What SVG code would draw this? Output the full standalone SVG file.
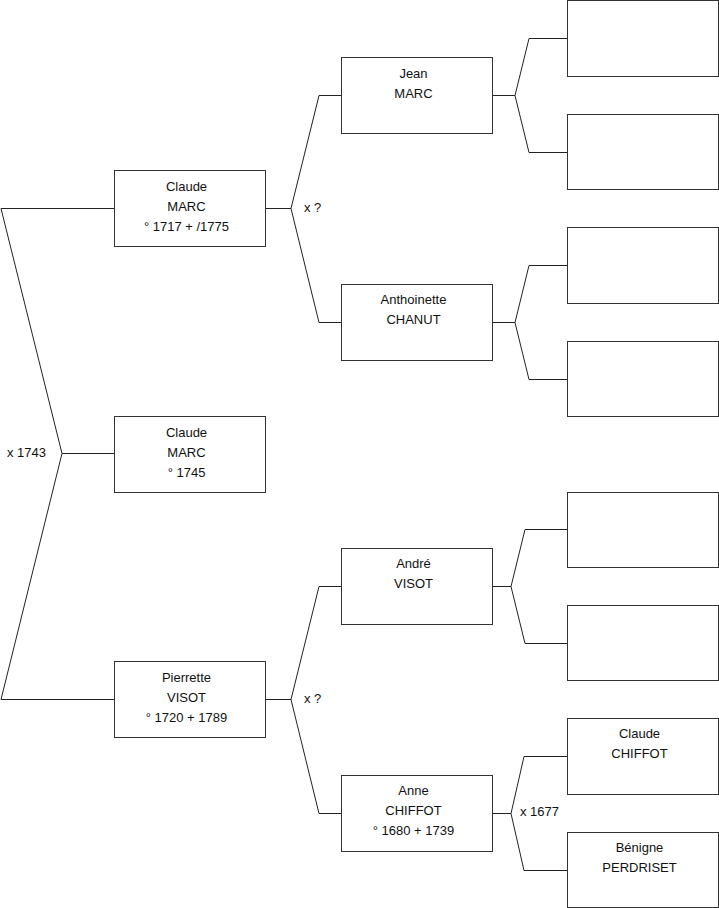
<svg xmlns="http://www.w3.org/2000/svg" width="719" height="908" viewBox="0 0 719 908">
<style>
rect.box{fill:#fff;stroke:#333;stroke-width:1}
.conn path{fill:none;stroke:#222;stroke-width:1}
text{font-family:"Liberation Sans",Arial,sans-serif;font-size:13px;fill:#111}
text.c{text-anchor:middle}
</style>
<rect width="719" height="908" fill="#fff"/>
<g class="conn" id="connectors">
<path d="M114,208.5 H1 L62,453.5 L1,699.5 H114"/>
<path d="M62,453.5 H114"/>
<path d="M265,208.5 H291 L319,95.5 H341"/>
<path d="M291,208.5 L319,322.5 H341"/>
<path d="M265,699.5 H291 L319,586.5 H341"/>
<path d="M291,699.5 L319,813.5 H341"/>
<path d="M492,95.5 H515 L529,38.5 H567"/>
<path d="M515,95.5 L529,152.5 H567"/>
<path d="M492,322.5 H515 L529,265.5 H567"/>
<path d="M515,322.5 L529,379.5 H567"/>
<path d="M492,586.5 H511 L525,529.5 H567"/>
<path d="M511,586.5 L525,643.5 H567"/>
<path d="M492,813.5 H511 L524,756.5 H567"/>
<path d="M511,813.5 L524,870.5 H567"/>
</g>
<g id="labels">
<text x="7" y="457">x 1743</text>
<text x="304" y="212">x ?</text>
<text x="304" y="703">x ?</text>
<text x="520" y="816">x 1677</text>
</g>
<g id="claude-marc-1717">
<rect class="box" x="114.5" y="170.5" width="151" height="76"/>
<text class="c" x="186.5" y="191">Claude</text>
<text class="c" x="186.5" y="211">MARC</text>
<text class="c" x="186.5" y="231">° 1717 + /1775</text>
</g>
<g id="claude-marc-1745">
<rect class="box" x="114.5" y="416.5" width="151" height="76"/>
<text class="c" x="186.5" y="437">Claude</text>
<text class="c" x="186.5" y="457">MARC</text>
<text class="c" x="186.5" y="477">° 1745</text>
</g>
<g id="pierrette-visot">
<rect class="box" x="114.5" y="661.5" width="151" height="76"/>
<text class="c" x="186.5" y="682">Pierrette</text>
<text class="c" x="186.5" y="702">VISOT</text>
<text class="c" x="186.5" y="722">° 1720 + 1789</text>
</g>
<g id="jean-marc">
<rect class="box" x="341.5" y="57.5" width="151" height="76"/>
<text class="c" x="413.5" y="78">Jean</text>
<text class="c" x="413.5" y="98">MARC</text>
</g>
<g id="anthoinette-chanut">
<rect class="box" x="341.5" y="284.5" width="151" height="76"/>
<text class="c" x="413.5" y="304">Anthoinette</text>
<text class="c" x="413.5" y="324">CHANUT</text>
</g>
<g id="andre-visot">
<rect class="box" x="341.5" y="548.5" width="151" height="76"/>
<text class="c" x="413.5" y="568">André</text>
<text class="c" x="413.5" y="588">VISOT</text>
</g>
<g id="anne-chiffot">
<rect class="box" x="341.5" y="775.5" width="151" height="76"/>
<text class="c" x="413.5" y="795">Anne</text>
<text class="c" x="413.5" y="815">CHIFFOT</text>
<text class="c" x="413.5" y="835">° 1680 + 1739</text>
</g>
<g id="p1"><rect class="box" x="567.5" y="0.5" width="151" height="76"/></g>
<g id="p2"><rect class="box" x="567.5" y="114.5" width="151" height="75"/></g>
<g id="p3"><rect class="box" x="567.5" y="227.5" width="151" height="76"/></g>
<g id="p4"><rect class="box" x="567.5" y="341.5" width="151" height="75"/></g>
<g id="p5"><rect class="box" x="567.5" y="492.5" width="151" height="75"/></g>
<g id="p6"><rect class="box" x="567.5" y="605.5" width="151" height="75"/></g>
<g id="claude-chiffot">
<rect class="box" x="567.5" y="718.5" width="151" height="76"/>
<text class="c" x="639.5" y="738">Claude</text>
<text class="c" x="639.5" y="758">CHIFFOT</text>
</g>
<g id="benigne-perdriset">
<rect class="box" x="567.5" y="832.5" width="151" height="75"/>
<text class="c" x="639.5" y="852">Bénigne</text>
<text class="c" x="639.5" y="872">PERDRISET</text>
</g>
</svg>
